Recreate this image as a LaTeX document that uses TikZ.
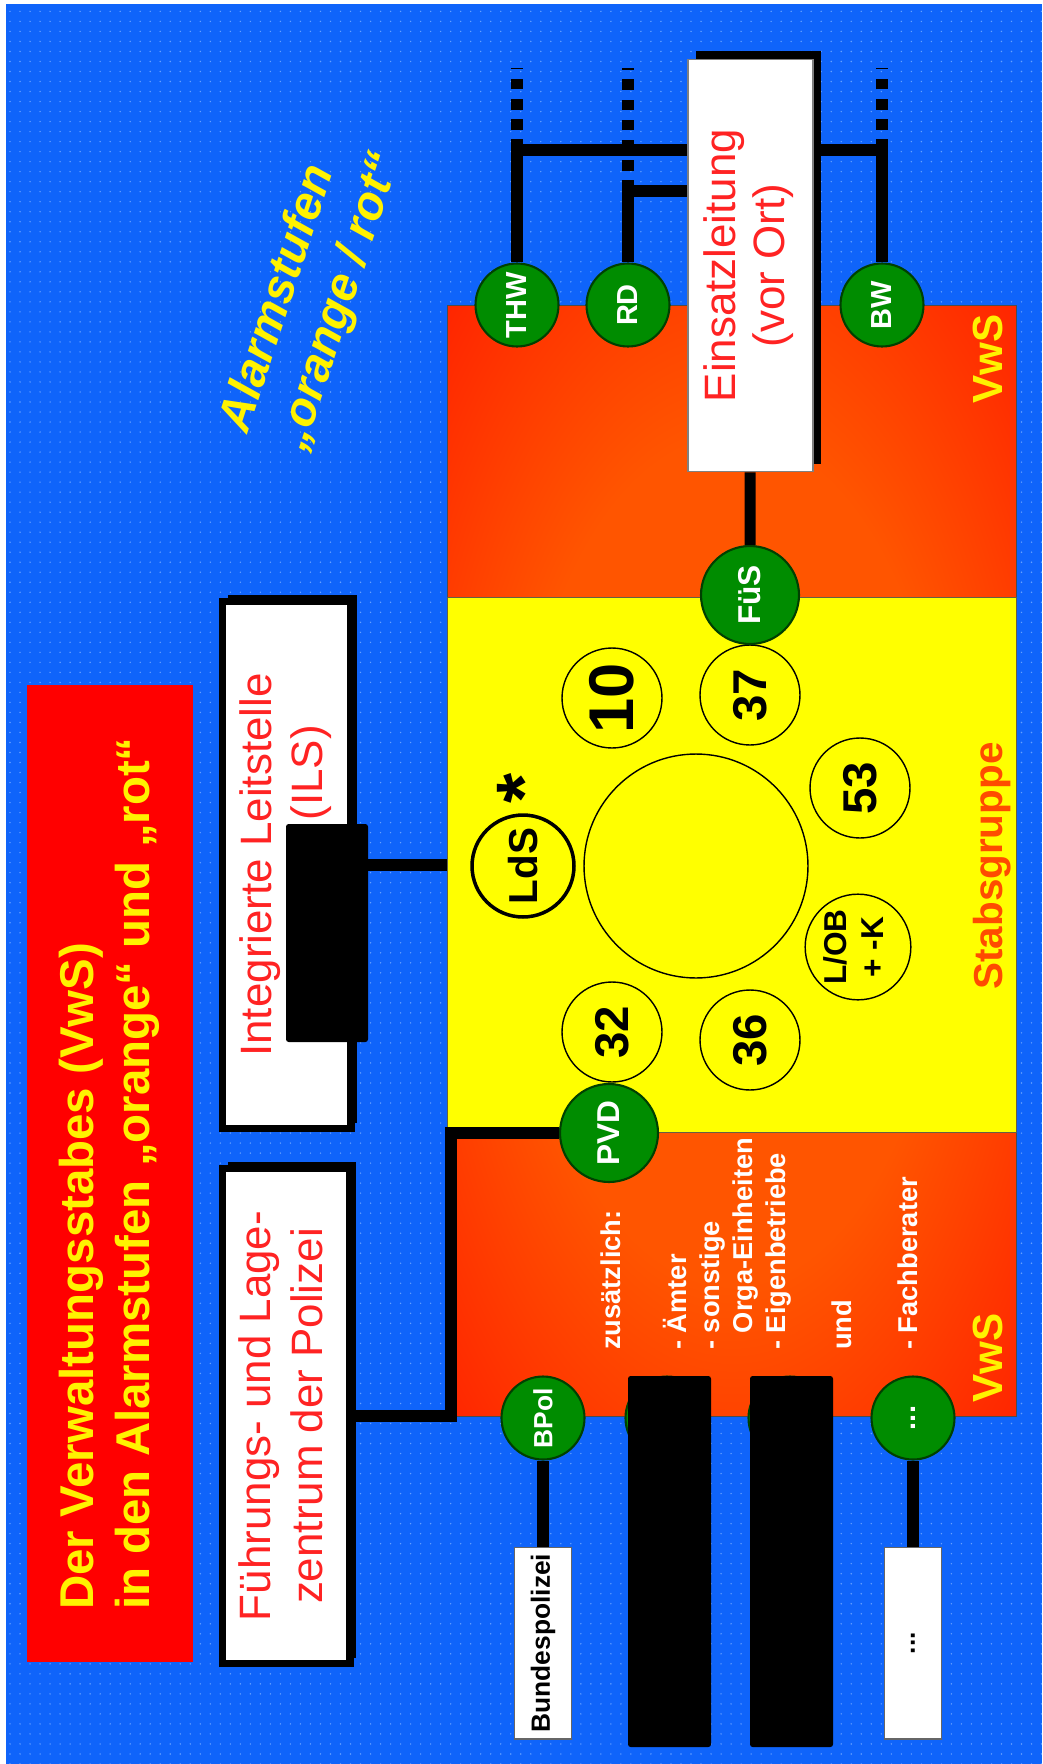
\documentclass[tikz,border=0pt]{standalone}
\usepackage{graphicx}
\usepackage{fontspec}
\setmainfont{Liberation Sans}
\usetikzlibrary{shadows,patterns.meta}

\definecolor{slideblue}{RGB}{15,100,250}
\definecolor{slidedot}{RGB}{100,160,255}
\definecolor{vwsred}{RGB}{255,12,0}
\definecolor{vwsorange}{RGB}{255,85,0}
\definecolor{stabyellow}{RGB}{255,255,0}
\definecolor{stabtext}{RGB}{255,75,0}
\definecolor{unitgreen}{RGB}{0,140,0}
\definecolor{boxred}{RGB}{255,35,35}

\pgfdeclareradialshading{vwsglow}{\pgfpoint{0bp}{0bp}}{color(0bp)=(vwsorange); color(19bp)=(vwsorange); color(44bp)=(vwsred); color(50bp)=(vwsred)}

\newcommand{\turned}[2][c]{\rotatebox{90}{\begin{tabular}{@{}#1@{}}#2\end{tabular}}}

\tikzset{
  wire/.style={line width=6.3pt},
  openwire/.style={line width=6.8pt, dash pattern=on 6pt off 5.5pt},
  offshadow/.style={drop shadow={shadow xshift=#1, shadow yshift=#1, fill=black, opacity=1}},
  panel/.style={fill=white, draw=black, line width=4pt, inner sep=0pt, text=boxred},
  tag/.style={fill=white, draw=black!60, line width=0.6pt, inner sep=0pt,
    minimum width=1.14cm, minimum height=3.84cm, font=\bfseries\fontsize{15}{15}\selectfont},
  unit/.style={circle, fill=unitgreen, draw=black!75!green, line width=1.2pt, inner sep=0pt,
    minimum size=#1, text=white, font=\bfseries\fontsize{16.5}{16.5}\selectfont},
  unit/.default=1.66cm,
  seat/.style={circle, draw=black, line width=0.8pt, inner sep=0pt, minimum size=2cm,
    font=\bfseries\fontsize{27}{27}\selectfont},
}

\begin{document}
\begin{tikzpicture}[x=0.02cm, y=-0.02cm]
\useasboundingbox (0,0) rectangle (1042,1764);
\fill[white] (0,0) rectangle (1042,1764);
\fill[slideblue] (6,4) rectangle (1042,1764);
\fill[pattern={Dots[distance=5.7pt, radius=0.45pt]}, pattern color=slidedot] (6,4) rectangle (1042,1764);

\node[fill=red, inner sep=0pt, minimum width=3.32cm, minimum height=19.54cm, text=yellow,
  font=\bfseries\fontsize{27}{32}\selectfont] (title) at (110,1173.5)
  {\turned[l]{Der Verwaltungsstabes (VwS)\\in den Alarmstufen „orange“ und „rot“}};
\node[rotate=72, text=yellow, align=left, font=\bfseries\itshape\fontsize{27}{34}\selectfont]
  (stufen) at (312,293) {Alarmstufen\\„orange / rot“};

\node[shade, shading=vwsglow, draw=black!70, line width=0.6pt, minimum width=11.4cm, minimum height=22.24cm] (vws) at (732,861) {};
\node[fill=stabyellow, draw=black!70!yellow, line width=0.6pt, minimum width=11.4cm, minimum height=10.72cm] (stab) at (732,865) {};

\node[panel, offshadow=3.2pt, minimum width=2.58cm, minimum height=10.56cm, font=\fontsize{25}{29}\selectfont]
  (ils) at (286.5,865) {\turned{Integrierte Leitstelle\\\hspace*{4.2em}(ILS)}};
\node[panel, offshadow=3.2pt, minimum width=2.56cm, minimum height=9.92cm, font=\fontsize{25}{29.5}\selectfont]
  (fuehrung) at (286,1416) {\turned{Führungs- und Lage-\\zentrum der Polizei}};
\node[panel, offshadow=4.5pt, draw=black!50, line width=0.6pt, minimum width=2.5cm, minimum height=8.26cm,
  font=\fontsize{25}{28}\selectfont] (einsatz) at (750.5,265.5) {\turned{Einsatzleitung\\(vor Ort)}};

\node[circle, draw=black, line width=0.8pt, minimum size=4.48cm] (tisch) at (696,866) {};
\node[seat, font=\bfseries\fontsize{36}{36}\selectfont] (s10) at (612,698) {\rotatebox{90}{10}};
\node[seat] (s37) at (750,695) {\rotatebox{90}{37}};
\node[seat] (s53) at (860,788) {\rotatebox{90}{53}};
\node[seat, font=\bfseries\fontsize{18}{21}\selectfont] (slob) at (858,947) {\turned{L/OB\\+ -K}};
\node[seat] (s36) at (750,1040) {\rotatebox{90}{36}};
\node[seat] (s32) at (612,1032) {\rotatebox{90}{32}};
\node[seat, minimum size=2.04cm, line width=2pt, font=\bfseries\fontsize{23}{23}\selectfont] (lds) at (523,866) {\rotatebox{90}{LdS}};
\node[font=\bfseries\fontsize{44}{44}\selectfont] (stern) at (524,788) {\rotatebox{90}{*}};

\node[unit] (thw) at (517,305) {\rotatebox{90}{THW}};
\node[unit] (rd) at (628,305) {\rotatebox{90}{RD}};
\node[unit] (bw) at (882,305) {\rotatebox{90}{BW}};
\node[unit=1.96cm, font=\bfseries\fontsize{18}{18}\selectfont] (fues) at (750,595) {\rotatebox{90}{FüS}};
\node[unit=1.96cm, font=\bfseries\fontsize{18}{18}\selectfont] (pvd) at (609,1133) {\rotatebox{90}{PVD}};
\node[unit, font=\bfseries\fontsize{15}{15}\selectfont] (bpol) at (543,1418) {\rotatebox{90}{BPol}};
\node[unit] (unitb) at (667,1418) {};
\node[unit] (unitc) at (790,1418) {};
\node[unit] (more) at (913,1418) {\rotatebox{90}{...}};

\node[tag] (bpolbox) at (543,1643) {\rotatebox{90}{Bundespolizei}};
\node[tag] (morebox) at (913,1643) {\rotatebox{90}{...}};

\coordinate (thwjoin) at (517,150);
\coordinate (thwend) at (517,68);
\coordinate (rdjoin) at (628,191);
\coordinate (rdend) at (628,68);
\coordinate (bwjoin) at (882,150);
\coordinate (bwend) at (882,68);
\coordinate (elbow) at (451,1416);

\draw[wire] (thw) -- (thwjoin) -- (thwjoin -| einsatz.west);
\draw[wire] (rd) -- (rdjoin) -- (rdjoin -| einsatz.west);
\draw[wire] (bw) -- (bwjoin) -- (bwjoin -| einsatz.east);
\draw[openwire] (thwjoin) -- (thwend);
\draw[openwire] (rdjoin) -- (rdend);
\draw[openwire] (bwjoin) -- (bwend);
\draw[wire] (einsatz) -- (fues);
\draw[wire] (ils.east) -- (ils.east -| stab.west);
\draw[wire] (fuehrung.east) -- (elbow) |- (pvd);
\draw[wire] (bpol) -- (bpolbox);
\draw[wire] (more) -- (morebox);

\node[text=stabtext, font=\bfseries\fontsize{23}{23}\selectfont] (stabname) at (992,866) {\rotatebox{90}{Stabsgruppe}};
\node[text=yellow, font=\bfseries\fontsize{24}{24}\selectfont] (vwsa) at (988,359) {\rotatebox{90}{VwS}};
\node[text=yellow, font=\bfseries\fontsize{24}{24}\selectfont] (vwsb) at (988,1358) {\rotatebox{90}{VwS}};
\node[anchor=south west, inner sep=0pt, text=white, font=\bfseries\fontsize{15.5}{18.8}\selectfont] (extra) at (597,1350)
  {\turned[l]{zusätzlich:\\ \\- Ämter\\- sonstige\\\hphantom{-\ }Orga-Einheiten\\- Eigenbetriebe\\ \\und\\ \\- Fachberater}};

\fill[rounded corners=1.5pt] (286,824) rectangle (368,1042);
\fill[rounded corners=1.5pt] (628,1376) rectangle (711,1747);
\fill[rounded corners=1.5pt] (750,1376) rectangle (833,1747);
\end{tikzpicture}
\end{document}
